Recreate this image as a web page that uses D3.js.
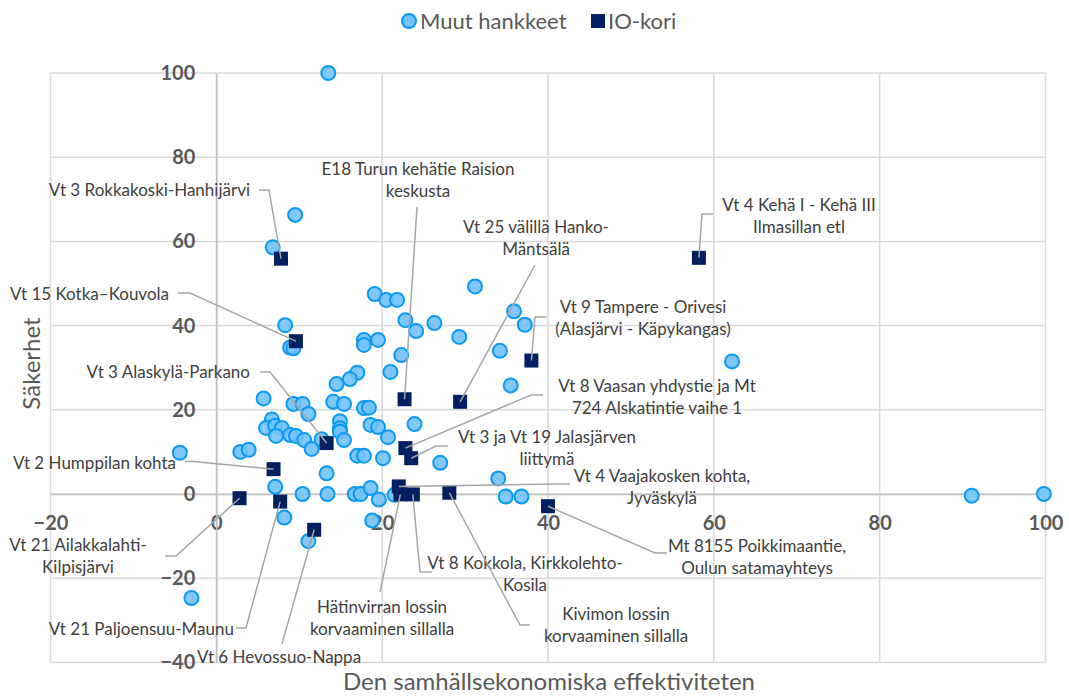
<!DOCTYPE html>
<html>
<head>
<meta charset="utf-8">
<script src="https://cdn.jsdelivr.net/npm/d3@7"></script>
<style>
  body { margin: 0; background: #fff; }
  svg { font-family: Lato, "Open Sans", sans-serif; }
</style>
</head>
<body>
<svg width="1069" height="697" id="mainsvg"></svg>
<script>
// --- data ---
const otherX = [13.5, 9.5, 6.8, 8.3, 8.9, 9.3, 19.1, 20.5, 21.8, 31.2, 22.8, 24.1, 26.3, 29.3, 22.3,
  35.9, 37.2, 34.2, 35.5, 62.2, 19.5, 17.8, 17.8, 21.0, 17.0, 16.1, 14.5, 5.7, 9.3, 10.4,
  11.1, 14.1, 15.4, 17.8, 18.4, 23.9, 14.9, 14.9, 14.9, 15.4, 18.6, 19.5, 20.7, 17.0, 17.8,
  20.1, 27.0, 6.7, 6.0, 7.1, 7.9, 7.2, 8.9, 9.6, 10.6, 11.5, 12.7, -4.4, 2.9, 3.9,
  13.3, 7.1, 34.0, 10.4, 13.4, 16.7, 17.4, 18.6, 21.5, 19.6, 34.9, 36.8, 91.1, 99.8, 8.2,
  18.8, 11.1, -3.0];
const otherY = [100, 66.3, 58.6, 40.1, 34.8, 34.6, 47.5, 46.1, 46.1, 49.3, 41.3, 38.7, 40.6, 37.3, 33.0,
  43.4, 40.2, 34.0, 25.8, 31.5, 36.6, 36.6, 35.4, 29.0, 28.8, 27.3, 26.1, 22.7, 21.4, 21.4,
  19.0, 21.9, 21.4, 20.4, 20.5, 16.6, 17.3, 15.6, 14.8, 12.8, 16.4, 15.9, 13.5, 9.1, 9.1,
  8.5, 7.4, 17.7, 15.7, 16.2, 15.7, 13.8, 14.0, 13.8, 12.8, 10.7, 13.0, 9.8, 10.0, 10.5,
  4.9, 1.7, 3.7, 0, 0, 0, 0, 1.4, -0.2, -1.3, -0.6, -0.6, -0.4, 0, -5.6,
  -6.3, -11.2, -24.7];

const ioNames = ['Vt 3 Rokkakoski-Hanhijärvi', 'E18 Turun kehätie Raision keskusta',
  'Vt 4 Kehä I - Kehä III Ilmasillan etl', 'Vt 25 välillä Hanko-Mäntsälä', 'Vt 15 Kotka–Kouvola',
  'Vt 9 Tampere - Orivesi (Alasjärvi - Käpykangas)', 'Vt 3 Alaskylä-Parkano',
  'Vt 8 Vaasan yhdystie ja Mt 724 Alskatintie vaihe 1', 'Vt 3 ja Vt 19 Jalasjärven liittymä',
  'Vt 2 Humppilan kohta', 'Vt 4 Vaajakosken kohta, Jyväskylä', 'Mt 8155 Poikkimaantie, Oulun satamayhteys',
  'Vt 8 Kokkola, Kirkkolehto-Kosila', 'Kivimon lossin korvaaminen sillalla',
  'Hätinvirran lossin korvaaminen sillalla', 'Vt 21 Ailakkalahti-Kilpisjärvi',
  'Vt 21 Paljoensuu-Maunu', 'Vt 6 Hevossuo-Nappa'];
const ioX = [7.8, 22.7, 58.2, 29.4, 9.6, 38.0, 13.3, 22.8, 23.5, 6.9, 22.0, 40.0, 23.7, 28.1, 22.2, 2.8, 7.7, 11.8];
const ioY = [55.9, 22.5, 56.1, 21.9, 36.3, 31.7, 12.1, 10.9, 8.5, 5.9, 1.8, -2.9, -0.1, 0.3, -0.1, -1.0, -1.8, -8.5];

const xTicks = [-20, 0, 20, 40, 60, 80, 100];
const yTicks = [-40, -20, 0, 20, 40, 60, 80, 100];

// label layout (pixels): text lines, anchor point, leader start/elbow
const labelLayout = [
  { lines: ['Vt 3 Rokkakoski-Hanhijärvi'], x: 250, y: 190, anchor: 'end', lead: [[259, 190], [269, 190]] },
  { lines: ['E18 Turun kehätie Raision', 'keskusta'], x: 418, y: 169, anchor: 'middle', lead: [[417, 207]] },
  { lines: ['Vt 4 Kehä I - Kehä III', 'Ilmasillan etl'], x: 799, y: 205, anchor: 'middle', lead: [[713, 214], [702, 214]] },
  { lines: ['Vt 25 välillä Hanko-', 'Mäntsälä'], x: 536, y: 227, anchor: 'middle', lead: [[535, 265]] },
  { lines: ['Vt 15 Kotka–Kouvola'], x: 169, y: 294, anchor: 'end', lead: [[178, 293], [190, 293]] },
  { lines: ['Vt 9 Tampere - Orivesi', '(Alasjärvi - Käpykangas)'], x: 643, y: 307, anchor: 'middle', lead: [[547, 317], [535, 317]] },
  { lines: ['Vt 3 Alaskylä-Parkano'], x: 250, y: 372, anchor: 'end', lead: [[260, 372], [270, 372]] },
  { lines: ['Vt 8 Vaasan yhdystie ja Mt', '724 Alskatintie vaihe 1'], x: 657, y: 386, anchor: 'middle', lead: [[543, 395], [531, 395]] },
  { lines: ['Vt 3 ja Vt 19 Jalasjärven', 'liittymä'], x: 547, y: 437, anchor: 'middle', lead: [[448, 446], [436, 446]] },
  { lines: ['Vt 2 Humppilan kohta'], x: 176, y: 463, anchor: 'end', lead: [[185, 461.5], [193, 461.5]] },
  { lines: ['Vt 4 Vaajakosken kohta,', 'Jyväskylä'], x: 662, y: 476, anchor: 'middle', lead: [[570, 484], [558, 484]] },
  { lines: ['Mt 8155 Poikkimaantie,', 'Oulun satamayhteys'], x: 757, y: 546, anchor: 'middle', lead: [[667, 553], [655, 553]] },
  { lines: ['Vt 8 Kokkola, Kirkkolehto-', 'Kosila'], x: 525, y: 563, anchor: 'middle', lead: [[432, 572], [420, 572]] },
  { lines: ['Kivimon lossin', 'korvaaminen sillalla'], x: 616, y: 614, anchor: 'middle', lead: [[530, 625], [520, 625]] },
  { lines: ['Hätinvirran lossin', 'korvaaminen sillalla'], x: 382, y: 607, anchor: 'middle', lead: [[380, 592]] },
  { lines: ['Vt 21 Ailakkalahti-', 'Kilpisjärvi'], x: 78, y: 545, anchor: 'middle', lead: [[165, 556], [176, 556]] },
  { lines: ['Vt 21 Paljoensuu-Maunu'], x: 234, y: 629, anchor: 'end', lead: [[236, 628], [246, 628]] },
  { lines: ['Vt 6 Hevossuo-Nappa'], x: 279, y: 657, anchor: 'middle', lead: [[282, 644]] }
];

// --- chart ---
const svg = d3.select('#mainsvg');
const xScale = d3.scaleLinear().domain([-20, 100]).range([50.5, 1045.5]);
const yScale = d3.scaleLinear().domain([-40, 100]).range([662.4, 73]);
const gray = '#595959';

// gridlines
const grid = svg.append('g');
grid.selectAll('.vgrid').data(xTicks).enter().append('line')
  .attr('x1', d => xScale(d)).attr('x2', d => xScale(d))
  .attr('y1', yScale(100)).attr('y2', yScale(-40))
  .attr('stroke', '#d9d9d9').attr('stroke-width', 1.5);
grid.selectAll('.hgrid').data(yTicks).enter().append('line')
  .attr('y1', d => yScale(d)).attr('y2', d => yScale(d))
  .attr('x1', xScale(-20)).attr('x2', xScale(100))
  .attr('stroke', '#d9d9d9').attr('stroke-width', 1.5);

// axis lines through zero
const xAxis = d3.axisBottom(xScale).tickValues(xTicks).tickSize(0).tickPadding(22).tickFormat(d3.format('d'));
const yAxis = d3.axisLeft(yScale).tickValues(yTicks).tickSize(0).tickPadding(21).tickFormat(d3.format('d'));
const xAxisGroup = svg.append('g').attr('transform', `translate(0, ${yScale(0)})`).call(xAxis);
const yAxisGroup = svg.append('g').attr('transform', `translate(${xScale(0)}, 0)`).call(yAxis);
[xAxisGroup, yAxisGroup].forEach(g => {
  g.select('.domain').attr('stroke', '#bfbfbf').attr('stroke-width', 1.5);
  g.selectAll('.tick text').attr('font-size', '20px').attr('font-weight', 'bold')
    .attr('fill', gray).attr('font-family', 'Lato, sans-serif');
});

// axis titles
svg.append('text').text('Den samhällsekonomiska effektiviteten')
  .attr('x', 549).attr('y', 682).attr('dy', '0.35em').attr('text-anchor', 'middle')
  .attr('font-size', '24px').attr('fill', gray);
svg.append('text').text('Säkerhet')
  .attr('transform', `translate(32, ${yScale(31)}) rotate(-90)`).attr('dy', '0.35em').attr('text-anchor', 'middle')
  .attr('font-size', '24px').attr('fill', gray);

// series: other projects
const others = otherX.map((x, i) => ({ x: x, y: otherY[i] }));
svg.append('g').selectAll('circle').data(others).enter().append('circle')
  .attr('cx', d => xScale(d.x)).attr('cy', d => yScale(d.y)).attr('r', 7)
  .attr('fill', '#72c2fc').attr('fill-opacity', 0.9)
  .attr('stroke', '#0a9af5').attr('stroke-width', 2);

// series: IO-kori
const io = ioX.map((x, i) => ({ name: ioNames[i], x: x, y: ioY[i] }));
svg.append('g').selectAll('rect').data(io).enter().append('rect')
  .attr('x', d => xScale(d.x) - 7).attr('y', d => yScale(d.y) - 7)
  .attr('width', 14).attr('height', 14).attr('fill', '#002060');

// leader lines + labels
const labels = svg.append('g');
io.forEach((d, i) => {
  const l = labelLayout[i];
  const pts = l.lead.concat([[xScale(d.x), yScale(d.y)]]);
  labels.append('path').attr('d', d3.line()(pts))
    .attr('fill', 'none').attr('stroke', '#a6a6a6').attr('stroke-width', 1.5);
  const t = labels.append('text').attr('text-anchor', l.anchor)
    .attr('font-size', '17px').attr('fill', '#404040');
  l.lines.forEach((s, j) => {
    t.append('tspan').attr('x', l.x).attr('y', l.y + j * 22.5).attr('dy', '0.35em').text(s);
  });
});

// legend
const legend = svg.append('g').attr('font-size', '22px').attr('fill', gray);
legend.append('circle').attr('cx', 409).attr('cy', 21).attr('r', 7)
  .attr('fill', '#72c2fc').attr('stroke', '#0a9af5').attr('stroke-width', 2);
legend.append('text').attr('x', 420).attr('y', 21).attr('dy', '0.35em').text('Muut hankkeet');
legend.append('rect').attr('x', 591).attr('y', 14).attr('width', 14).attr('height', 14).attr('fill', '#002060');
legend.append('text').attr('x', 608).attr('y', 21).attr('dy', '0.35em').text('IO-kori');
</script>
</body>
</html>
